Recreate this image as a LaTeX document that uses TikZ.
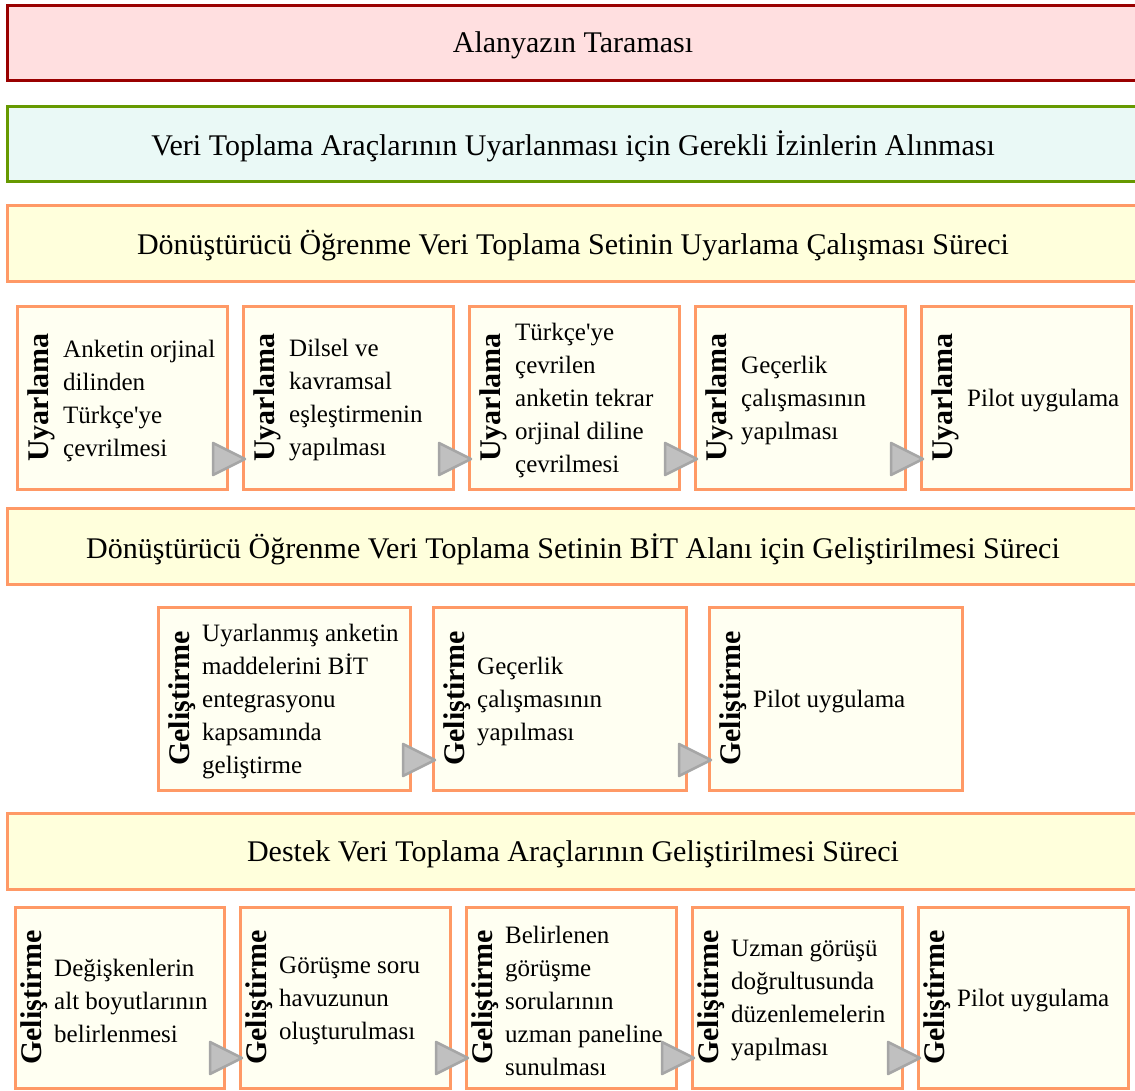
\documentclass[tikz,border=0pt]{standalone}
\usepackage{fontspec}
\setmainfont{Liberation Serif}
\usetikzlibrary{calc}
\definecolor{redborder}{HTML}{990000}
\definecolor{redfill}{HTML}{FFDFE0}
\definecolor{greenborder}{HTML}{669900}
\definecolor{greenfill}{HTML}{EAF9F6}
\definecolor{orangeborder}{HTML}{FF9966}
\definecolor{yellowfill}{HTML}{FFFFDC}
\definecolor{creamfill}{HTML}{FFFFF2}
\definecolor{trifill}{HTML}{C0C0C0}
\definecolor{tridraw}{HTML}{A6A6A6}
\tikzset{
  bar/.style={draw=orangeborder, fill=yellowfill, line width=3pt, minimum height=75pt,
    minimum width=1132pt, anchor=north west, inner sep=0pt, outer sep=0pt},
  redbar/.style={draw=redborder, fill=redfill},
  greenbar/.style={draw=greenborder, fill=greenfill},
  bartext/.style={inner sep=0pt, font=\fontsize{30}{34}\selectfont},
  stage/.style={draw=orangeborder, fill=creamfill, line width=3pt, anchor=north west,
    inner sep=0pt, outer sep=0pt},
  vlabel/.style={rotate=90, anchor=north, inner sep=0pt, font=\bfseries\fontsize{30}{34}\selectfont},
  btext/.style={anchor=west, align=left, inner sep=0pt, font=\fontsize{25}{33}\selectfont},
  tri/.style={fill=trifill, draw=tridraw, line width=2.5pt, line join=round}
}
\def\rowh{183}
\def\labx{10}
\def\txtx{46}
\newcommand\stagebox[6]{%
  \node[stage, minimum width=#4pt, minimum height=\rowh pt] (#1) at (#2,#3) {};
  \node[vlabel] (#1l) at ([xshift=\labx pt]#1.west) {#5};
  \node[btext] (#1t) at ([xshift=\txtx pt, yshift=-3pt]#1.west) {#6};
}
\newcommand\flowtri[1]{%
  \draw[tri] ([shift={(2,-30)}]#1.south west) -- ++(-32,-16) -- ++(0,32) -- cycle;
}
\newcommand\stagebar[5][]{% [options] name, y, height, text
  \node[bar, minimum height=#4pt, #1] (#2) at (7,#3) {};
  \node[bartext] (#2t) at ([yshift=-3pt]#2.center) {#5};
}
\begin{document}
\begin{tikzpicture}[x=1pt,y=-1pt]
\useasboundingbox (0,0) rectangle (1135,1090);
\clip (0,0) rectangle (1135,1090);

\stagebar[redbar]{bar1}{5}{75}{Alanyazın Taraması}
\stagebar[greenbar]{bar2}{106}{75}{Veri Toplama Araçlarının Uyarlanması için Gerekli İzinlerin Alınması}
\stagebar{bar3}{205}{76}{Dönüştürücü Öğrenme Veri Toplama Setinin Uyarlama Çalışması Süreci}
\stagebar{bar4}{508}{76}{Dönüştürücü Öğrenme Veri Toplama Setinin BİT Alanı için Geliştirilmesi Süreci}
\stagebar{bar5}{813}{76}{Destek Veri Toplama Araçlarının Geliştirilmesi Süreci}

% Row 1
\def\rowh{183}\def\labx{10}\def\txtx{46}
\stagebox{a1}{17}{306}{210}{Uyarlama}{Anketin orjinal\\dilinden\\Türkçe\textquotesingle ye\\çevrilmesi}
\stagebox{a2}{243}{306}{210}{Uyarlama}{Dilsel ve\\kavramsal\\eşleştirmenin\\yapılması}
\stagebox{a3}{469}{306}{210}{Uyarlama}{Türkçe\textquotesingle ye\\çevrilen\\anketin tekrar\\orjinal diline\\çevrilmesi}
\stagebox{a4}{695}{306}{210}{Uyarlama}{Geçerlik\\çalışmasının\\yapılması}
\stagebox{a5}{921}{306}{210}{Uyarlama}{Pilot uygulama}
\flowtri{a2}\flowtri{a3}\flowtri{a4}\flowtri{a5}

% Row 2
\def\rowh{183}\def\labx{10}\def\txtx{44}
\stagebox{b1}{158}{607}{252}{Geliştirme}{Uyarlanmış anketin\\maddelerini BİT\\entegrasyonu\\kapsamında\\geliştirme}
\stagebox{b2}{433}{607}{253}{Geliştirme}{Geçerlik\\çalışmasının\\yapılması}
\stagebox{b3}{709}{607}{253}{Geliştirme}{Pilot uygulama}
\flowtri{b2}\flowtri{b3}

% Row 3
\def\rowh{181}\def\labx{5}\def\txtx{39}
\stagebox{c1}{15}{907}{209}{Geliştirme}{Değişkenlerin\\alt boyutlarının\\belirlenmesi}
\stagebox{c2}{240}{907}{210}{Geliştirme}{Görüşme soru\\havuzunun\\oluşturulması}
\stagebox{c3}{466}{907}{210}{Geliştirme}{Belirlenen\\görüşme\\sorularının\\uzman paneline\\sunulması}
\stagebox{c4}{692}{907}{210}{Geliştirme}{Uzman görüşü\\doğrultusunda\\düzenlemelerin\\yapılması}
\stagebox{c5}{918}{907}{210}{Geliştirme}{Pilot uygulama}
\flowtri{c2}\flowtri{c3}\flowtri{c4}\flowtri{c5}
\end{tikzpicture}
\end{document}
